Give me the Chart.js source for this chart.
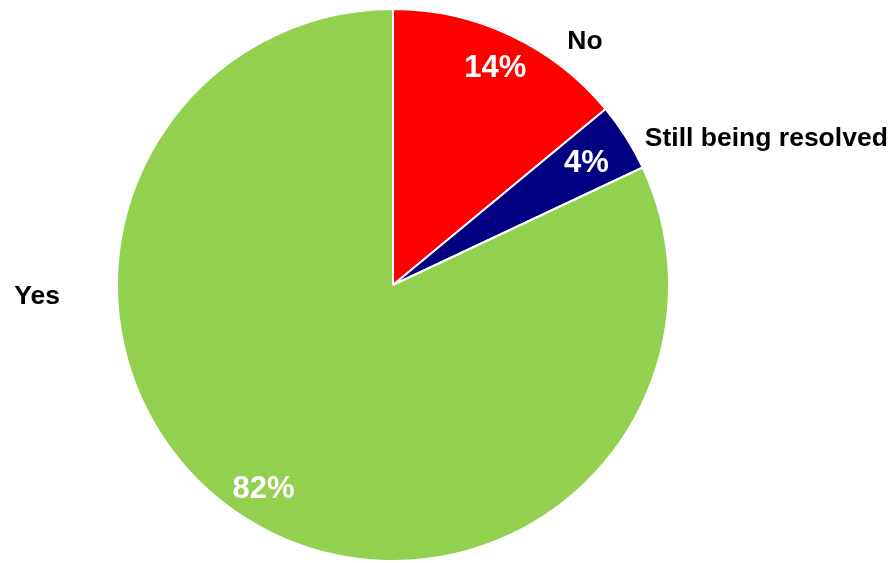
<!DOCTYPE html>
<html lang="en">
<head>
<meta charset="UTF-8">
<title>Resolution pie</title>
<script src="https://cdn.jsdelivr.net/npm/chart.js@4/dist/chart.umd.min.js"></script>
<style>
    html, body { margin: 0; padding: 0; background: #fff; }
    #wrap { width: 895px; height: 563px; }
</style>
</head>
<body>
<div id="wrap"><canvas id="pie"></canvas></div>
<script>
    // slices, clockwise from 12 o'clock
    const categories = ['No', 'Still being resolved', 'Yes'];
    const shares = [14, 4, 82];
    const pctLabels = ['14%', '4%', '82%'];
    const colors = ['#ff0000', '#000080', '#92d050'];

    // where the text goes, relative to the pie (angle in degrees clockwise from top, radius as fraction of R)
    const pctRadius = [0.87, 0.83, 0.875];
    const nameAngle = [38.2, 59.6, 268.2];
    const nameRadius = [1.125, 1.058, 1.207];
    const nameAlign = ['center', 'left', 'right'];

    const FONT = '"Liberation Sans", Arial, sans-serif';

    const sliceText = {
        id: 'sliceText',
        afterDatasetsDraw(chart) {
            const ctx = chart.ctx;
            const arcs = chart.getDatasetMeta(0).data;
            ctx.save();
            ctx.textBaseline = 'middle';
            arcs.forEach((arc, i) => {
                const p = arc.getProps(['x', 'y', 'startAngle', 'endAngle', 'outerRadius'], true);
                const mid = (p.startAngle + p.endAngle) / 2;
                const rIn = p.outerRadius * pctRadius[i];
                ctx.fillStyle = '#fff';
                ctx.font = 'bold 31px ' + FONT;
                ctx.textAlign = 'center';
                ctx.fillText(pctLabels[i], p.x + Math.cos(mid) * rIn, p.y + Math.sin(mid) * rIn + 1);

                const a = (nameAngle[i] - 90) * Math.PI / 180;
                const rOut = p.outerRadius * nameRadius[i];
                ctx.fillStyle = '#000';
                ctx.font = 'bold 26.5px ' + FONT;
                ctx.textAlign = nameAlign[i];
                ctx.fillText(categories[i], p.x + Math.cos(a) * rOut, p.y + Math.sin(a) * rOut + 1);
            });
            ctx.restore();
        }
    };

    new Chart(document.getElementById('pie'), {
        type: 'pie',
        data: {
            labels: categories,
            datasets: [{
                data: shares,
                backgroundColor: colors,
                borderColor: '#fff',
                borderWidth: 2,
                hoverOffset: 0,
                radius: 276
            }]
        },
        options: {
            responsive: true,
            maintainAspectRatio: false,
            animation: false,
            events: [],
            layout: { padding: { left: 0, right: 109, top: 9, bottom: 2 } },
            plugins: {
                legend: { display: false },
                tooltip: { enabled: false }
            }
        },
        plugins: [sliceText]
    });
</script>
</body>
</html>
